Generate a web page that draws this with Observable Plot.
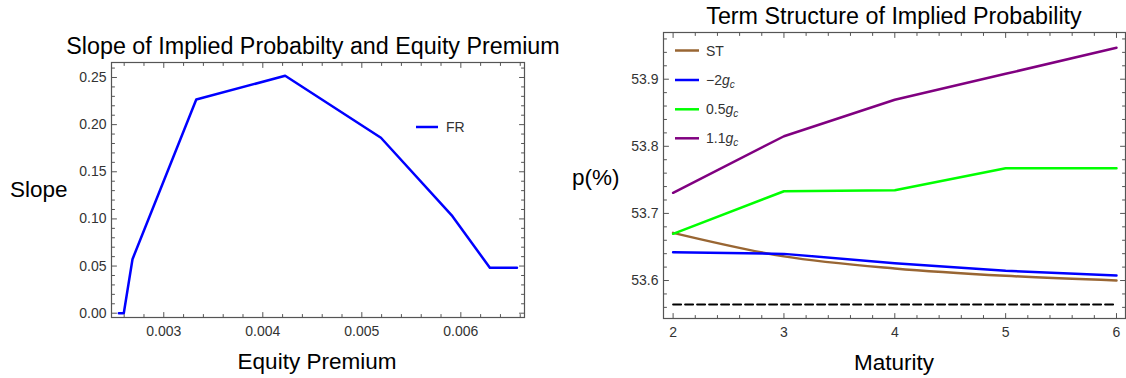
<!DOCTYPE html>
<html>
<head>
<meta charset="utf-8">
<script src="https://cdn.jsdelivr.net/npm/d3@7"></script>
<script src="https://cdn.jsdelivr.net/npm/@observablehq/plot@0.6"></script>
<style>
  html, body { margin: 0; padding: 0; background: #fff; }
  #wrap { position: relative; width: 1126px; height: 378px; overflow: hidden; font-family: "Liberation Sans", Arial, sans-serif; }
  #wrap > svg, #wrap > div { position: absolute; }
</style>
</head>
<body>
<div id="wrap"></div>
<script>
// ---------- Left panel data ----------
const equityPremium = [0.002546, 0.002596, 0.002684, 0.003328, 0.004226, 0.005193, 0.005915, 0.006293, 0.006567];
const slopeFR      = [0, 0, 0.0573, 0.2267, 0.2518, 0.1861, 0.1029, 0.0482, 0.0482];
const leftXTicks = [0.003, 0.004, 0.005, 0.006];
const leftYTicks = [0, 0.05, 0.10, 0.15, 0.20, 0.25];

// ---------- Right panel data ----------
const maturity = [2, 3, 4, 5, 6];
const pST    = [53.671, 53.636, 53.618, 53.607, 53.600];
const pNeg2  = [53.6422, 53.6397, 53.6258, 53.6144, 53.6075];
const p05    = [53.6696, 53.733, 53.7346, 53.7674, 53.7674];
const p11    = [53.7307, 53.815, 53.8693, 53.908, 53.947];
const pBaseline = 53.5642;
const rightXTicks = [2, 3, 4, 5, 6];
const rightYTicks = [53.6, 53.7, 53.8, 53.9];

const seriesNames  = ["ST", "-2gc", "0.5gc", "1.1gc"];
const seriesColors = ["#996633", "#0000ff", "#00ff00", "#800080"];

const FRAME = "#555";
const LABEL = "#333";
const font = '"Liberation Sans", Arial, sans-serif';

const tickShape = { draw(ctx, l) { ctx.moveTo(0, 0); ctx.lineTo(0, -l); } };

function frameTicks(xMajor, xMinor, yMajor, yMinor) {
  const m = [];
  const opts = (len) => ({ length: len, anchor: "start", shape: tickShape, stroke: FRAME, strokeWidth: 1 });
  for (const [arr, len] of [[xMajor, 5], [xMinor, 3]]) {
    m.push(Plot.vectorX(arr, { ...opts(len), frameAnchor: "bottom", rotate: 0 }));
    m.push(Plot.vectorX(arr, { ...opts(len), frameAnchor: "top", rotate: 180 }));
  }
  for (const [arr, len] of [[yMajor, 5], [yMinor, 3]]) {
    m.push(Plot.vectorY(arr, { ...opts(len), frameAnchor: "left", rotate: 90 }));
    m.push(Plot.vectorY(arr, { ...opts(len), frameAnchor: "right", rotate: -90 }));
  }
  return m;
}
function minors(lo, hi, step, majors) {
  return d3.range(Math.ceil(lo / step - 1e-9), Math.floor(hi / step + 1e-9) + 1)
    .map(i => +(i * step).toFixed(6))
    .filter(v => !majors.some(M => Math.abs(M - v) < step / 10));
}

// ---------- Left plot ----------
const leftData = equityPremium.map((x, i) => ({ x, y: slopeFR[i] }));
const lxDom = [0.002472, 0.006643], lyDom = [-0.00456, 0.2659];
const left = Plot.plot({
  width: 560, height: 378,
  marginLeft: 111, marginRight: 36, marginTop: 62, marginBottom: 61,
  style: { fontFamily: font, background: "transparent" },
  x: { domain: lxDom },
  y: { domain: lyDom },
  marks: [
    Plot.line(leftData, { x: "x", y: "y", stroke: "#0000ff", strokeWidth: 2.5 }),
    Plot.frame({ stroke: FRAME, strokeWidth: 1.2 }),
    ...frameTicks(leftXTicks, minors(lxDom[0], lxDom[1], 0.0002, leftXTicks),
                  leftYTicks, minors(0, lyDom[1], 0.01, leftYTicks)),
    Plot.axisX(leftXTicks, { anchor: "bottom", tickSize: 0, tickPadding: 9, fontSize: 14, fill: LABEL, label: null, tickFormat: d => d.toFixed(3) }),
    Plot.axisY(leftYTicks, { anchor: "left", tickSize: 0, tickPadding: 5, fontSize: 14, fill: LABEL, label: null, tickFormat: d => d.toFixed(2) })
  ]
});
left.style.left = "0px"; left.style.top = "0px";

// ---------- Right plot ----------
const rightData = [];
const seriesVals = [pST, pNeg2, p05, p11];
seriesNames.forEach((s, k) => maturity.forEach((m, i) => rightData.push({ s, m, p: seriesVals[k][i] })));
const baseData = maturity.map(m => ({ m, p: pBaseline }));
const rxDom = [1.9134, 6.0812], ryDom = [53.5434, 53.9696];
const right = Plot.plot({
  width: 566, height: 378,
  marginLeft: 103, marginRight: 1, marginTop: 32, marginBottom: 60,
  style: { fontFamily: font, background: "transparent" },
  x: { domain: rxDom },
  y: { domain: ryDom },
  color: { domain: seriesNames, range: seriesColors },
  marks: [
    Plot.line(baseData, { x: "m", y: "p", stroke: "#000", strokeWidth: 2, strokeDasharray: "8,4" }),
    Plot.line(rightData.filter(d => d.s === "ST"), { x: "m", y: "p", stroke: "s", strokeWidth: 2.5, curve: "monotone-x" }),
    Plot.line(rightData.filter(d => d.s !== "ST"), { x: "m", y: "p", z: "s", stroke: "s", strokeWidth: 2.5 }),
    Plot.frame({ stroke: FRAME, strokeWidth: 1.2 }),
    ...frameTicks(rightXTicks, minors(rxDom[0], rxDom[1], 0.2, rightXTicks),
                  rightYTicks, minors(ryDom[0], ryDom[1], 0.02, rightYTicks)),
    Plot.axisX(rightXTicks, { anchor: "bottom", tickSize: 0, tickPadding: 9, fontSize: 14, fill: LABEL, label: null, tickFormat: d => String(d) }),
    Plot.axisY(rightYTicks, { anchor: "left", tickSize: 0, tickPadding: 5, fontSize: 14, fill: LABEL, label: null, tickFormat: d => d.toFixed(1) })
  ]
});
right.style.left = "560px"; right.style.top = "0px";

const wrap = document.getElementById("wrap");
wrap.appendChild(left);
wrap.appendChild(right);

// ---------- Overlay: titles, axis labels, legends ----------
const ov = d3.select(wrap).append("svg")
  .attr("width", 1126).attr("height", 378)
  .style("left", "0px").style("top", "0px")
  .style("font-family", font);

const texts = [
  { t: "Slope of Implied Probabilty and Equity Premium", x: 313, y: 54, a: "middle", s: 23.3 },
  { t: "Term Structure of Implied Probability", x: 894, y: 24, a: "middle", s: 23.3 },
  { t: "Equity Premium", x: 317, y: 369, a: "middle", s: 22.5 },
  { t: "Maturity", x: 894, y: 370, a: "middle", s: 22.5 },
  { t: "Slope", x: 10, y: 197, a: "start", s: 22.5 },
  { t: "p(%)", x: 572, y: 185, a: "start", s: 22.5 }
];
ov.selectAll("text.t").data(texts).join("text")
  .attr("class", "t")
  .attr("x", d => d.x).attr("y", d => d.y)
  .attr("text-anchor", d => d.a)
  .attr("font-size", d => d.s).attr("fill", "#000")
  .text(d => d.t);

// left legend
ov.append("line").attr("x1", 416).attr("x2", 438).attr("y1", 127).attr("y2", 127)
  .attr("stroke", "#0000ff").attr("stroke-width", 2.5);
ov.append("text").attr("x", 446).attr("y", 132).attr("font-size", 14).attr("fill", LABEL).text("FR");

// right legend
const legY = [50.5, 80, 109.3, 138.3];
const legLabels = [
  { pre: "ST" },
  { pre: "\u22122", g: "g", sub: "c" },
  { pre: "0.5", g: "g", sub: "c" },
  { pre: "1.1", g: "g", sub: "c" }
];
legLabels.forEach((L, i) => {
  ov.append("line").attr("x1", 675).attr("x2", 699).attr("y1", legY[i]).attr("y2", legY[i])
    .attr("stroke", seriesColors[i]).attr("stroke-width", 2.5);
  const t = ov.append("text").attr("x", 706).attr("y", legY[i] + 5).attr("font-size", 14).attr("fill", LABEL);
  t.append("tspan").text(L.pre);
  if (L.g) {
    t.append("tspan").attr("font-style", "italic").text(L.g);
    t.append("tspan").attr("font-style", "italic").attr("font-size", 10).attr("dy", 3).text(L.sub);
  }
});
</script>
</body>
</html>
